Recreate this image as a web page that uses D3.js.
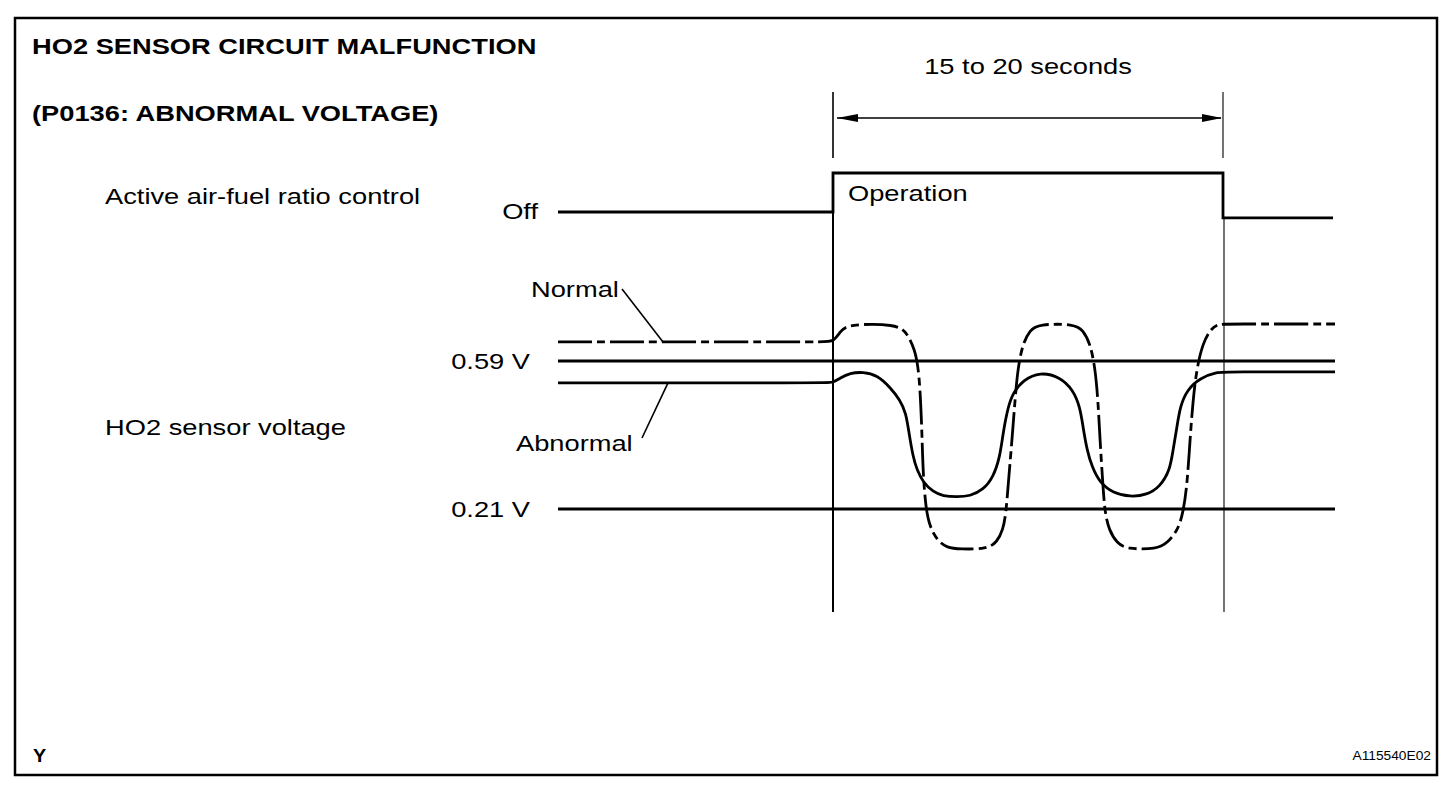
<!DOCTYPE html>
<html>
<head>
<meta charset="utf-8">
<script src="https://cdn.jsdelivr.net/npm/d3@7"></script>
<style>
  html, body { margin: 0; padding: 0; background: #fff; }
  svg { display: block; font-family: 'Liberation Sans', Arial, sans-serif; }
</style>
</head>
<body>
<div id="chart"></div>
<script>
// time in seconds, t = 0 when active air-fuel ratio control starts
const opWindow = [0, 19.5]
const timeSpan = [-13.75, 25.1]

// Active air-fuel ratio control: 0 = Off, 1 = Operation
const activeControl = [
  [-13.75, 0], [0, 0], [0, 1], [19.5, 1], [19.5, -0.15], [25.0, -0.15]
]

// threshold voltages
const voltTicks = [0.59, 0.21]

// HO2 sensor voltage, normal sensor (t, V)
const normalVoltage = [
  [-13.75, 0.639], [-0.4, 0.639], [0, 0.639], [0.35, 0.664], [0.7, 0.685],
  [3.2, 0.685], [3.7, 0.662], [4.1, 0.618], [4.25, 0.575], [4.35, 0.523], [4.45, 0.405],
  [4.5, 0.302], [4.65, 0.207], [4.85, 0.164], [5.2, 0.130], [5.7, 0.110], [6.35, 0.107],
  [7.7, 0.107], [8.2, 0.125], [8.5, 0.156], [8.65, 0.200], [8.75, 0.267], [8.95, 0.387],
  [9.1, 0.490], [9.25, 0.575], [9.5, 0.636], [9.85, 0.669], [10.25, 0.685],
  [12.1, 0.685], [12.5, 0.669], [12.85, 0.636], [13.1, 0.575], [13.25, 0.490], [13.35, 0.387],
  [13.5, 0.267], [13.6, 0.200], [13.8, 0.156], [14.2, 0.122], [14.7, 0.107],
  [16.2, 0.107], [16.7, 0.122], [17.25, 0.156], [17.5, 0.200], [17.7, 0.267], [17.85, 0.387],
  [18.0, 0.490], [18.2, 0.575], [18.5, 0.636], [18.85, 0.669], [19.2, 0.685],
  [19.8, 0.685], [25.1, 0.685]
]

// HO2 sensor voltage, abnormal sensor (t, V)
const abnormalVoltage = [
  [-13.75, 0.534], [-0.4, 0.534], [0, 0.534], [0.35, 0.546], [0.85, 0.559], [1.5, 0.562],
  [2.2, 0.554], [2.85, 0.523], [3.35, 0.490], [3.65, 0.457], [3.8, 0.405], [4.0, 0.344],
  [4.2, 0.310], [4.5, 0.279], [5.0, 0.254], [5.5, 0.243], [6.2, 0.241],
  [6.85, 0.243], [7.5, 0.259], [8.0, 0.290], [8.35, 0.344], [8.5, 0.405], [8.75, 0.472],
  [9.0, 0.508], [9.5, 0.541], [10.35, 0.562],
  [11.35, 0.549], [12.0, 0.516], [12.35, 0.472], [12.5, 0.421], [12.7, 0.361], [12.95, 0.318],
  [13.35, 0.277], [14.0, 0.251], [14.85, 0.241],
  [15.7, 0.246], [16.35, 0.267], [16.85, 0.310], [17.0, 0.361], [17.2, 0.421], [17.35, 0.472],
  [17.7, 0.516], [18.35, 0.546], [19.2, 0.562], [19.8, 0.562], [25.1, 0.562]
]

const width = 1456
const height = 788
const stretch = 1.24 // the lettering in the drawing is wide

const svg = d3.select('#chart')
  .append('svg')
  .attr('width', width)
  .attr('height', height)
  .style('background-color', '#FFF')

const x = d3.scaleLinear()
  .domain(opWindow)
  .range([833, 1223])

const y = d3.scaleLinear()
  .domain([0.21, 0.59])
  .range([509, 361])

const yState = d3.scaleLinear()
  .domain([0, 1])
  .range([212, 173])

// frame
svg.append('rect')
  .attr('x', 15)
  .attr('y', 18)
  .attr('width', 1422)
  .attr('height', 757)
  .attr('fill', 'none')
  .attr('stroke', '#000')
  .attr('stroke-width', 2.5)

function label (px, py, str, { size = 22, bold = false, anchor = 'start', sx = stretch } = {}) {
  svg.append('text')
    .attr('transform', `translate(${px}, ${py}) scale(${sx}, 1)`)
    .attr('font-size', size)
    .attr('font-weight', bold ? 'bold' : 'normal')
    .attr('text-anchor', anchor)
    .attr('fill', '#000')
    .text(str)
}

label(32, 54, 'HO2 SENSOR CIRCUIT MALFUNCTION', { bold: true })
label(32, 121, '(P0136: ABNORMAL VOLTAGE)', { bold: true })
label(105, 204, 'Active air-fuel ratio control')
label(105, 435, 'HO2 sensor voltage')
label(538, 219, 'Off', { anchor: 'end' })
label(x(0) + 15, 201, 'Operation')
label((x(opWindow[0]) + x(opWindow[1])) / 2, 74, '15 to 20 seconds', { anchor: 'middle' })
label(531, 297, 'Normal')
label(516, 451, 'Abnormal')
label(33, 762, 'Y', { size: 18, bold: true, sx: 1.1 })
label(1431, 760, 'A115540E02', { size: 13, anchor: 'end', sx: 1.06 })

// dimension: extension lines and double arrow
for (const t of opWindow) {
  svg.append('line')
    .attr('x1', x(t)).attr('x2', x(t))
    .attr('y1', 92).attr('y2', 158)
    .attr('stroke', '#000')
    .attr('stroke-width', t === 0 ? 1.6 : 1.1)
}

const arrowY = 118
svg.append('line')
  .attr('x1', x(opWindow[0]) + 4).attr('x2', x(opWindow[1]) - 2)
  .attr('y1', arrowY).attr('y2', arrowY)
  .attr('stroke', '#000')
  .attr('stroke-width', 1.6)

svg.append('path')
  .attr('d', `M${x(opWindow[0]) + 4},${arrowY} L${x(opWindow[0]) + 25},${arrowY - 4} L${x(opWindow[0]) + 25},${arrowY + 4} Z`)
  .attr('fill', '#000')

svg.append('path')
  .attr('d', `M${x(opWindow[1]) - 1},${arrowY} L${x(opWindow[1]) - 21},${arrowY - 4} L${x(opWindow[1]) - 21},${arrowY + 4} Z`)
  .attr('fill', '#000')

// timing lines down through the voltage plot
svg.append('line')
  .attr('x1', x(opWindow[0])).attr('x2', x(opWindow[0]))
  .attr('y1', yState(1)).attr('y2', 612)
  .attr('stroke', '#000')
  .attr('stroke-width', 2)

svg.append('line')
  .attr('x1', x(opWindow[1]) + 1).attr('x2', x(opWindow[1]) + 1)
  .attr('y1', yState(-0.15)).attr('y2', 612)
  .attr('stroke', '#000')
  .attr('stroke-width', 1.1)

// active air-fuel ratio control signal
svg.append('path')
  .datum(activeControl)
  .attr('fill', 'none')
  .attr('stroke', '#000')
  .attr('stroke-width', 2.8)
  .attr('stroke-linejoin', 'miter')
  .attr('d', d3.line().x(d => x(d[0])).y(d => yState(d[1])))

// threshold lines and their labels
const voltAxis = svg.append('g')
  .attr('transform', `translate(${x(timeSpan[0])}, 0)`)
  .call(d3.axisLeft(y).tickValues(voltTicks).tickSize(0).tickPadding(28).tickFormat(d => `${d.toFixed(2)} V`))

voltAxis.select('.domain').remove()
voltAxis.selectAll('text')
  .attr('font-size', 22)
  .attr('font-family', 'Liberation Sans, Arial, sans-serif')
  .attr('fill', '#000')
  .attr('x', -28 / stretch)
  .attr('transform', `scale(${stretch}, 1)`)

svg.selectAll('.threshold')
  .data(voltTicks)
  .join('line')
  .attr('class', 'threshold')
  .attr('x1', x(timeSpan[0])).attr('x2', x(timeSpan[1]))
  .attr('y1', d => y(d)).attr('y2', d => y(d))
  .attr('stroke', '#000')
  .attr('stroke-width', 2.8)

const wave = d3.line()
  .x(d => x(d[0]))
  .y(d => y(d[1]))
  .curve(d3.curveBasis)

svg.append('path')
  .datum(normalVoltage)
  .attr('fill', 'none')
  .attr('stroke', '#000')
  .attr('stroke-width', 2.8)
  .attr('stroke-dasharray', '34,5,8,5')
  .attr('d', wave)

svg.append('path')
  .datum(abnormalVoltage)
  .attr('fill', 'none')
  .attr('stroke', '#000')
  .attr('stroke-width', 2.8)
  .attr('d', wave)

// leader lines from the labels to the curves
svg.append('line')
  .attr('x1', 622).attr('y1', 289)
  .attr('x2', x(-8.5)).attr('y2', y(normalVoltage[0][1]))
  .attr('stroke', '#000')
  .attr('stroke-width', 1.6)

svg.append('line')
  .attr('x1', x(-8.25)).attr('y1', y(abnormalVoltage[0][1]))
  .attr('x2', 642).attr('y2', 438)
  .attr('stroke', '#000')
  .attr('stroke-width', 1.6)
</script>
</body>
</html>
